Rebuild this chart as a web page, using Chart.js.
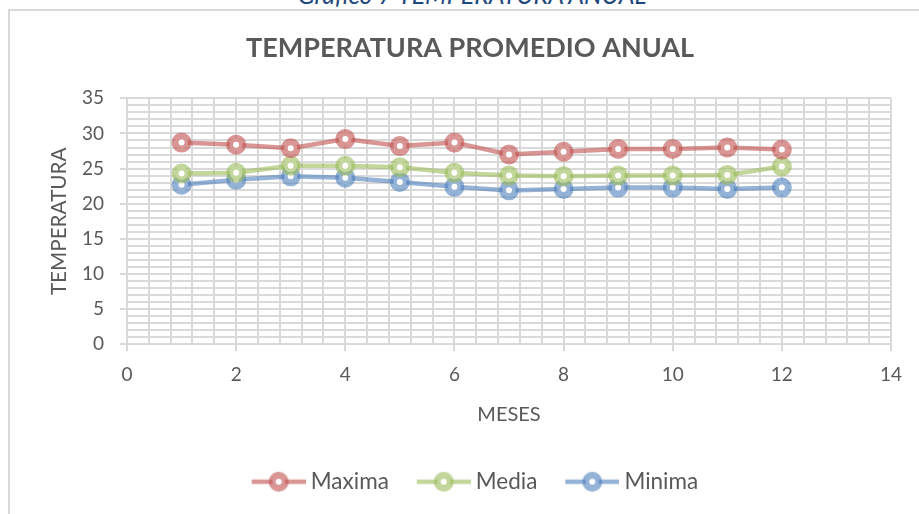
<!DOCTYPE html>
<html>
<head>
<meta charset="utf-8">
<title>Temperatura promedio anual</title>
<script src="https://cdn.jsdelivr.net/npm/chart.js@4.4.1/dist/chart.umd.min.js"></script>
<style>
  html, body { margin: 0; padding: 0; width: 919px; height: 514px; overflow: hidden; background: #fff; }
  #caption { position: absolute; left: 0; width: 944px; top: -18px; text-align: center;
             font: italic 25px Lato, sans-serif; line-height: 25px; color: #1f497d; white-space: nowrap; }
  #wrap { position: absolute; left: 8px; top: 9px; width: 920px; height: 503px;
          border-left: 2px solid #d9d9d9; border-top: 2px solid #d9d9d9; }
</style>
</head>
<body>
<div id="caption">Grafico 7 TEMPERATURA ANUAL</div>
<div id="wrap"><canvas id="grafico"></canvas></div>
<script>
// datos
const meses  = [1, 2, 3, 4, 5, 6, 7, 8, 9, 10, 11, 12];
const maxima = [28.7, 28.4, 27.9, 29.2, 28.2, 28.7, 27.0, 27.4, 27.8, 27.8, 28.0, 27.7];
const media  = [24.3, 24.4, 25.4, 25.4, 25.2, 24.4, 24.0, 23.9, 24.0, 24.0, 24.1, 25.3];
const minima = [22.7, 23.4, 23.9, 23.7, 23.1, 22.4, 21.9, 22.1, 22.3, 22.3, 22.1, 22.3];

const ejeX = { min: 0, max: 14, mayor: 2, menor: 0.4 };
const ejeY = { min: 0, max: 35, mayor: 5, menor: 1 };

const rojo  = 'rgba(192, 80, 77, 0.6)';
const verde = 'rgba(155, 187, 89, 0.6)';
const azul  = 'rgba(79, 129, 189, 0.6)';
const gris  = '#d9d9d9';

function esMayor(v, paso) {
  return Math.abs(v / paso - Math.round(v / paso)) < 1e-6;
}

// icono de leyenda: linea con marcador, corrido a la derecha dentro del lienzo
function iconoLeyenda(color) {
  var c = document.createElement('canvas');
  c.width = 70; c.height = 22;
  var g = c.getContext('2d');
  g.strokeStyle = color;
  g.lineWidth = 4.5;
  g.beginPath(); g.moveTo(16, 11); g.lineTo(70, 11); g.stroke();
  g.beginPath(); g.arc(43, 11, 6.5, 0, Math.PI * 2);
  g.fillStyle = '#fff'; g.fill();
  g.lineWidth = 7; g.stroke();
  return c;
}

function serie(nombre, valores, color) {
  return {
    label: nombre,
    data: meses.map(function (m, i) { return { x: m, y: valores[i] }; }),
    borderColor: color,
    backgroundColor: '#fff',
    borderWidth: 4.5,
    pointRadius: 6.5,
    pointHoverRadius: 6.5,
    pointBorderWidth: 7,
    pointBackgroundColor: '#fff',
    pointBorderColor: color,
    tension: 0,
    fill: false
  };
}

const iconos = [iconoLeyenda(rojo), iconoLeyenda(verde), iconoLeyenda(azul)];

Chart.defaults.font.family = 'Lato, "Open Sans", sans-serif';
Chart.defaults.color = '#595959';

new Chart(document.getElementById('grafico'), {
  type: 'line',
  data: {
    datasets: [
      serie('Maxima', maxima, rojo),
      serie('Media', media, verde),
      serie('Minima', minima, azul)
    ]
  },
  options: {
    responsive: true,
    maintainAspectRatio: false,
    animation: false,
    devicePixelRatio: 1,
    events: [],
    layout: { padding: { left: 0, right: 0, top: 0, bottom: 11 } },
    plugins: {
      tooltip: { enabled: false },
      title: {
        display: true,
        text: 'TEMPERATURA PROMEDIO ANUAL',
        color: '#595959',
        font: { size: 27, weight: 'bold' },
        padding: { top: 20.8, bottom: 34.1 }
      },
      legend: {
        position: 'bottom',
        labels: {
          usePointStyle: true,
          pointStyleWidth: 57.75,
          padding: 18,
          color: '#595959',
          font: { size: 22.5 },
          generateLabels: function (chart) {
            var items = Chart.defaults.plugins.legend.labels.generateLabels(chart);
            items.forEach(function (it, i) { it.pointStyle = iconos[i]; });
            return items;
          }
        }
      }
    },
    scales: {
      x: {
        type: 'linear',
        min: ejeX.min,
        max: ejeX.max,
        ticks: {
          stepSize: ejeX.menor,
          autoSkip: false,
          maxRotation: 0,
          padding: 12.3,
          font: { size: 19 },
          callback: function (v) { return esMayor(v, ejeX.mayor) ? Math.round(v) : ''; }
        },
        grid: {
          color: gris,
          lineWidth: 2,
          tickLength: 7,
          tickWidth: 2,
          tickColor: function (c) { return c.tick && esMayor(c.tick.value, ejeX.mayor) ? gris : 'rgba(0,0,0,0)'; }
        },
        border: { color: gris, width: 2 },
        title: { display: true, text: 'MESES', font: { size: 20 }, padding: { top: 4.3, bottom: 25.5 } }
      },
      y: {
        min: ejeY.min,
        max: ejeY.max,
        afterFit: function (s) { s.width = 117; },
        ticks: {
          stepSize: ejeY.menor,
          autoSkip: false,
          padding: 16,
          font: { size: 19 },
          callback: function (v) { return esMayor(v, ejeY.mayor) ? Math.round(v) : ''; }
        },
        grid: {
          color: gris,
          lineWidth: 2,
          tickLength: 7,
          tickWidth: 2,
          tickColor: function (c) { return c.tick && esMayor(c.tick.value, ejeY.mayor) ? gris : 'rgba(0,0,0,0)'; }
        },
        border: { color: gris, width: 2 },
        title: { display: true, text: 'TEMPERATURA', font: { size: 20.7 }, padding: { top: 37.1, bottom: 0 } }
      },
      margen: {
        type: 'linear',
        position: 'right',
        display: true,
        grid: { display: false },
        border: { display: false },
        ticks: { display: false },
        afterFit: function (s) { s.width = 39; }
      }
    }
  }
});
</script>
</body>
</html>
